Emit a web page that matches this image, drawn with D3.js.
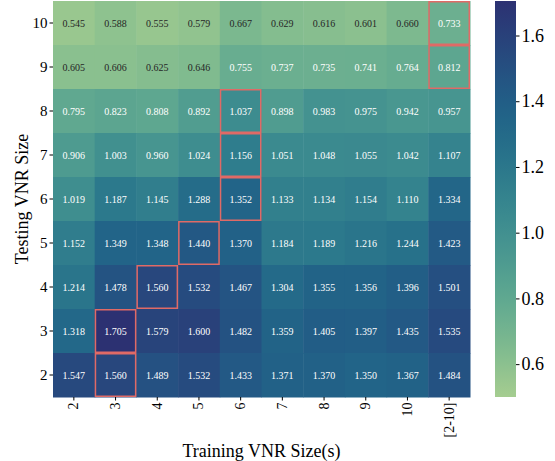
<!DOCTYPE html>
<html>
<head>
<meta charset="utf-8">
<script src="https://cdn.jsdelivr.net/npm/d3@7"></script>
<style>
  body { margin: 0; background: #fff; }
  svg text { font-family: 'Liberation Serif', 'Times New Roman', serif; }
</style>
</head>
<body>
<div id="graf"></div>
<script>
// datos
trainSizes = ['2', '3', '4', '5', '6', '7', '8', '9', '10', '[2-10]']
testSizes  = ['10', '9', '8', '7', '6', '5', '4', '3', '2']
valores = [
  [0.545, 0.588, 0.555, 0.579, 0.667, 0.629, 0.616, 0.601, 0.660, 0.733],
  [0.605, 0.606, 0.625, 0.646, 0.755, 0.737, 0.735, 0.741, 0.764, 0.812],
  [0.795, 0.823, 0.808, 0.892, 1.037, 0.898, 0.983, 0.975, 0.942, 0.957],
  [0.906, 1.003, 0.960, 1.024, 1.156, 1.051, 1.048, 1.055, 1.042, 1.107],
  [1.019, 1.187, 1.145, 1.288, 1.352, 1.133, 1.134, 1.154, 1.110, 1.334],
  [1.152, 1.349, 1.348, 1.440, 1.370, 1.184, 1.189, 1.216, 1.244, 1.423],
  [1.214, 1.478, 1.560, 1.532, 1.467, 1.304, 1.355, 1.356, 1.396, 1.501],
  [1.318, 1.705, 1.579, 1.600, 1.482, 1.359, 1.405, 1.397, 1.435, 1.535],
  [1.547, 1.560, 1.489, 1.532, 1.433, 1.371, 1.370, 1.350, 1.367, 1.484]
]
colorTicks = [0.6, 0.8, 1.0, 1.2, 1.4, 1.6]
vmin = 0.5
// por debajo de este valor el texto de la celda va oscuro
umbralTexto = 0.7

// paleta tipo "crest"
crest = ['#a5cd90', '#86be8e', '#69ae90', '#55a190', '#439290', '#35848e',
         '#28748b', '#216588', '#235584', '#29437b', '#2c3172']

ancho_total = 555
alto_total = 461
margen = { superior: 1, izquierdo: 53, derecho: 85, inferior: 64 }
ancho = ancho_total - margen.izquierdo - margen.derecho
alto = alto_total - margen.superior - margen.inferior
fuente = "'Liberation Serif', 'Times New Roman', serif"

svg = d3.select('#graf').append('svg')
  .attr('width', ancho_total)
  .attr('height', alto_total)

g = svg.append('g')
  .attr('transform', `translate(${margen.izquierdo}, ${margen.superior})`)

x = d3.scaleBand().domain(trainSizes).range([0, ancho])
y = d3.scaleBand().domain(testSizes).range([0, alto])

vmax = d3.max(valores, r => d3.max(r))
color = d3.scaleSequential(d3.interpolateRgbBasis(crest)).domain([vmin, vmax])

// celdas
celdas = []
valores.forEach((fila, i) => {
  maxFila = d3.max(fila)
  fila.forEach((v, j) => {
    celdas.push({ test: testSizes[i], train: trainSizes[j], v: v, mejor: v === maxFila })
  })
})

g.selectAll('rect.celda')
  .data(celdas)
  .enter()
  .append('rect')
  .attr('class', 'celda')
  .attr('x', d => x(d.train))
  .attr('y', d => y(d.test))
  .attr('width', x.bandwidth() + 0.5)
  .attr('height', y.bandwidth() + 0.5)
  .attr('fill', d => color(d.v))

g.selectAll('text.valor')
  .data(celdas)
  .enter()
  .append('text')
  .attr('class', 'valor')
  .attr('x', d => x(d.train) + x.bandwidth() / 2)
  .attr('y', d => y(d.test) + y.bandwidth() / 2)
  .attr('dy', '0.35em')
  .attr('text-anchor', 'middle')
  .style('font-family', fuente)
  .style('font-size', '10px')
  .attr('fill', d => d.v < umbralTexto ? '#262626' : '#ffffff')
  .text(d => d.v.toFixed(3))

// marcos rojos para el maximo de cada fila
g.selectAll('rect.mejor')
  .data(celdas.filter(d => d.mejor))
  .enter()
  .append('rect')
  .attr('class', 'mejor')
  .attr('x', d => x(d.train) + 0.75)
  .attr('y', d => y(d.test) + 0.75)
  .attr('width', x.bandwidth() - 1.5)
  .attr('height', y.bandwidth() - 1.5)
  .attr('fill', 'none')
  .attr('stroke', '#e06a66')
  .attr('stroke-width', 1.5)

// ejes
xAxisGroup = g.append('g')
  .attr('transform', `translate(0, ${alto})`)
  .call(d3.axisBottom(x).tickSize(3.5).tickPadding(2))
xAxisGroup.attr('font-family', null).attr('font-size', null)
xAxisGroup.select('.domain').remove()
xAxisGroup.selectAll('text')
  .style('font-family', fuente)
  .style('font-size', '14px')
  .attr('fill', '#000')
  .attr('text-anchor', 'end')
  .attr('dy', '0.32em')
  .attr('x', -5.5)
  .attr('y', 0)
  .attr('transform', 'rotate(-90)')

yAxisGroup = g.append('g')
  .call(d3.axisLeft(y).tickSize(3.5).tickPadding(2))
yAxisGroup.attr('font-family', null).attr('font-size', null)
yAxisGroup.select('.domain').remove()
yAxisGroup.selectAll('text')
  .style('font-family', fuente)
  .style('font-size', '15px')
  .attr('fill', '#000')

svg.append('text')
  .attr('x', margen.izquierdo + ancho / 2)
  .attr('y', 457)
  .attr('text-anchor', 'middle')
  .style('font-family', fuente)
  .style('font-size', '18px')
  .text('Training VNR Size(s)')

svg.append('text')
  .attr('transform', `translate(28, ${margen.superior + alto / 2}) rotate(-90)`)
  .attr('text-anchor', 'middle')
  .style('font-family', fuente)
  .style('font-size', '18px')
  .text('Testing VNR Size')

// barra de color
cbX = 495
cbW = 21
defs = svg.append('defs')
grad = defs.append('linearGradient')
  .attr('id', 'grad')
  .attr('x1', 0).attr('y1', 1).attr('x2', 0).attr('y2', 0)
d3.range(0, 1.0001, 0.05).forEach(t => {
  grad.append('stop')
    .attr('offset', t)
    .attr('stop-color', color(vmin + t * (vmax - vmin)))
})
svg.append('rect')
  .attr('x', cbX)
  .attr('y', margen.superior)
  .attr('width', cbW)
  .attr('height', alto)
  .attr('fill', 'url(#grad)')

cy = d3.scaleLinear().domain([vmin, vmax]).range([margen.superior + alto, margen.superior])
cbAxis = svg.append('g')
  .attr('transform', `translate(${cbX + cbW}, 0)`)
  .call(d3.axisRight(cy).tickValues(colorTicks).tickFormat(d3.format('.1f')).tickSize(3.5).tickPadding(2))
cbAxis.attr('font-family', null).attr('font-size', null)
cbAxis.select('.domain').remove()
cbAxis.selectAll('text')
  .style('font-family', fuente)
  .style('font-size', '18px')
  .attr('fill', '#000')
</script>
</body>
</html>
